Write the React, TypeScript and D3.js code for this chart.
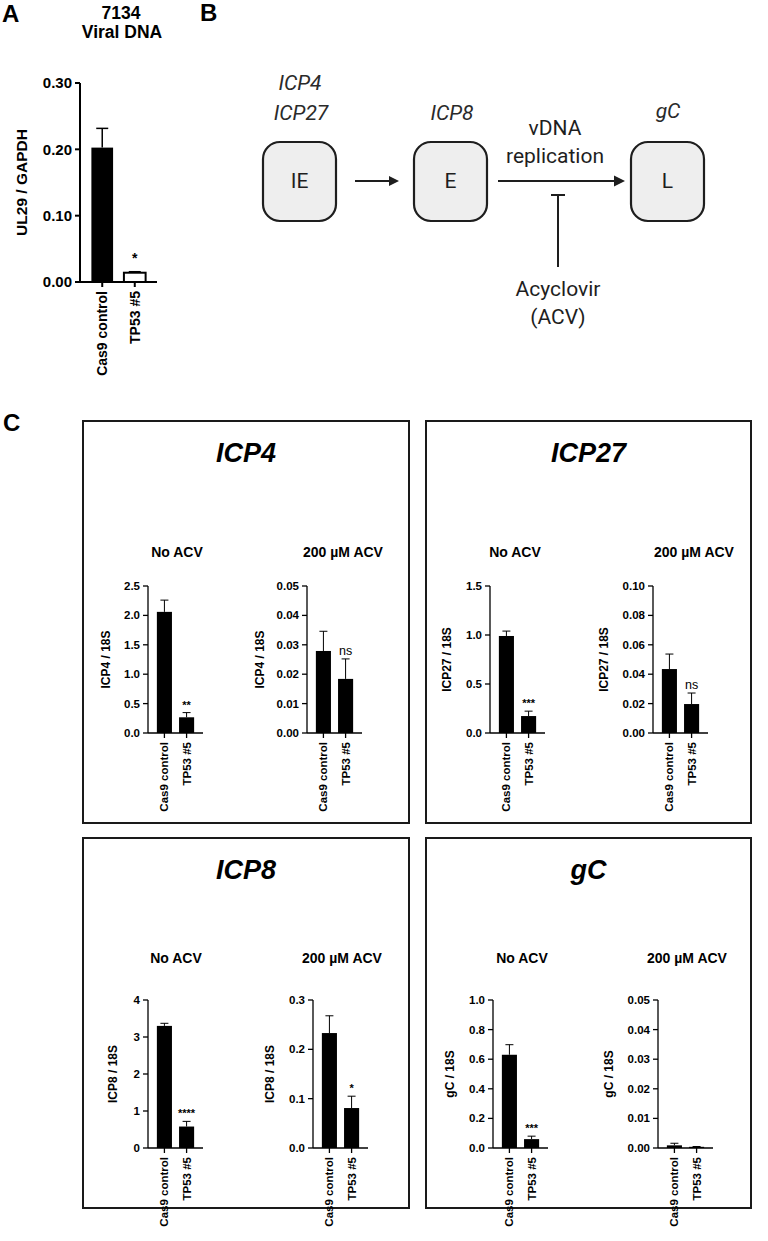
import React from "react";
import * as d3 from "d3";

// ---------- data ----------
const groups = ["Cas9 control", "TP53 #5"];

const viralDnaMean = [0.2026, 0.014];
const viralDnaSem = [0.029, 0.0015];
const viralDnaTicks = [0, 0.1, 0.2, 0.3];

const icp4NoMean = [2.06, 0.267];
const icp4NoSem = [0.2, 0.08];
const icp4NoTicks = [0, 0.5, 1.0, 1.5, 2.0, 2.5];
const icp4AcvMean = [0.0279, 0.0184];
const icp4AcvSem = [0.0067, 0.0068];
const icp4AcvTicks = [0, 0.01, 0.02, 0.03, 0.04, 0.05];

const icp27NoMean = [0.99, 0.173];
const icp27NoSem = [0.05, 0.05];
const icp27NoTicks = [0, 0.5, 1.0, 1.5];
const icp27AcvMean = [0.0435, 0.0197];
const icp27AcvSem = [0.0102, 0.0075];
const icp27AcvTicks = [0, 0.02, 0.04, 0.06, 0.08, 0.1];

const icp8NoMean = [3.3, 0.58];
const icp8NoSem = [0.07, 0.14];
const icp8NoTicks = [0, 1, 2, 3, 4];
const icp8AcvMean = [0.233, 0.081];
const icp8AcvSem = [0.035, 0.024];
const icp8AcvTicks = [0, 0.1, 0.2, 0.3];

const gcNoMean = [0.63, 0.06];
const gcNoSem = [0.068, 0.02];
const gcNoTicks = [0, 0.2, 0.4, 0.6, 0.8, 1.0];
const gcAcvMean = [0.0009, 0.0004];
const gcAcvSem = [0.0007, 0.0001];
const gcAcvTicks = [0, 0.01, 0.02, 0.03, 0.04, 0.05];

const FONT = "'Liberation Sans', Arial, Helvetica, sans-serif";
const ROBOTO = "Roboto, 'Noto Sans', sans-serif";

type ChartProps = {
  x0: number;
  len: number;
  yTop: number;
  yBottom: number;
  ticks: number[];
  fmt: string;
  means: number[];
  sems: number[];
  fills: string[];
  label: string;
  labelOffset: number;
  sig: string[];
  pi: number;
  po: number;
  tickSize: number;
  labelSize: number;
  xLabelSize: number;
  axisW: number;
  errW: number;
  capW: number;
  starSize: number;
  starGap: number;
};

function BarChart(p: ChartProps) {
  const max = p.ticks[p.ticks.length - 1];
  const y = d3.scaleLinear().domain([0, max]).range([p.yBottom, p.yTop]);
  const x = d3
    .scaleBand<string>()
    .domain(groups)
    .range([p.x0, p.x0 + p.len])
    .paddingInner(p.pi)
    .paddingOuter(p.po);
  const f = d3.format(p.fmt);
  const bw = x.bandwidth();
  return (
    <g fontFamily={FONT} fill="#000">
      {groups.map((g, i) => {
        const bx = x(g)!;
        const top = y(p.means[i]);
        const et = y(p.means[i] + p.sems[i]);
        const cx = bx + bw / 2;
        return (
          <g key={g}>
            <line x1={cx} x2={cx} y1={top} y2={et} stroke="#000" strokeWidth={p.errW} />
            <line x1={cx - p.capW / 2} x2={cx + p.capW / 2} y1={et} y2={et} stroke="#000" strokeWidth={p.errW} />
            <rect
              x={bx}
              y={top}
              width={bw}
              height={p.yBottom - top}
              fill={p.fills[i]}
              stroke="#000"
              strokeWidth={p.fills[i] === "#000" ? 0 : p.axisW}
            />
            {p.sig[i] ? (
              <text
                x={cx}
                y={et - p.starGap}
                textAnchor="middle"
                fontSize={p.sig[i] === "ns" ? 12.5 : p.starSize}
                fontWeight={p.sig[i] === "ns" ? 400 : 700}
                fill="#000"
              >
                {p.sig[i]}
              </text>
            ) : null}
            <line x1={cx} x2={cx} y1={p.yBottom} y2={p.yBottom + 5} stroke="#000" strokeWidth={p.axisW} />
            <text
              transform={`translate(${cx},${p.yBottom + 9}) rotate(-90)`}
              textAnchor="end"
              dy="0.35em"
              fontSize={p.xLabelSize}
              fontWeight={700}
            >
              {g}
            </text>
          </g>
        );
      })}
      <line x1={p.x0} x2={p.x0} y1={p.yTop} y2={p.yBottom} stroke="#000" strokeWidth={p.axisW} />
      <line x1={p.x0} x2={p.x0 + p.len} y1={p.yBottom} y2={p.yBottom} stroke="#000" strokeWidth={p.axisW} />
      {p.ticks.map((t) => (
        <g key={t}>
          <line x1={p.x0 - 5} x2={p.x0} y1={y(t)} y2={y(t)} stroke="#000" strokeWidth={p.axisW} />
          <text x={p.x0 - 8} y={y(t)} dy="0.35em" textAnchor="end" fontSize={p.tickSize} fontWeight={700}>
            {f(t)}
          </text>
        </g>
      ))}
      <text
        transform={`translate(${p.x0 - p.labelOffset},${(p.yTop + p.yBottom) / 2}) rotate(-90)`}
        textAnchor="middle"
        fontSize={p.labelSize}
        fontWeight={700}
      >
        {p.label}
      </text>
    </g>
  );
}

const smallBase = {
  len: 55,
  fills: ["#000", "#000"],
  pi: 0.32,
  po: 0.4,
  tickSize: 11.5,
  labelSize: 12,
  xLabelSize: 11.5,
  axisW: 1.3,
  errW: 1,
  capW: 8,
  starSize: 11,
  starGap: 4,
};

type PanelDef = {
  title: string;
  box: [number, number, number, number];
  titleY: number;
  subY: number;
  subX: [number, number];
  charts: Partial<ChartProps>[];
};

const topY: [number, number] = [586, 733];
const botY: [number, number] = [1000, 1148];

const panels: PanelDef[] = [
  {
    title: "ICP4",
    box: [83, 421, 409, 823],
    titleY: 462,
    subY: 557,
    subX: [177, 343],
    charts: [
      { x0: 148, yTop: topY[0], yBottom: topY[1], ticks: icp4NoTicks, fmt: ".1f", means: icp4NoMean, sems: icp4NoSem, label: "ICP4 / 18S", labelOffset: 38, sig: ["", "**"] },
      { x0: 307, yTop: topY[0], yBottom: topY[1], ticks: icp4AcvTicks, fmt: ".2f", means: icp4AcvMean, sems: icp4AcvSem, label: "ICP4 / 18S", labelOffset: 43, sig: ["", "ns"] },
    ],
  },
  {
    title: "ICP27",
    box: [426, 421, 751, 823],
    titleY: 462,
    subY: 557,
    subX: [515, 694],
    charts: [
      { x0: 490, yTop: topY[0], yBottom: topY[1], ticks: icp27NoTicks, fmt: ".1f", means: icp27NoMean, sems: icp27NoSem, label: "ICP27 / 18S", labelOffset: 39, sig: ["", "***"] },
      { x0: 653, yTop: topY[0], yBottom: topY[1], ticks: icp27AcvTicks, fmt: ".2f", means: icp27AcvMean, sems: icp27AcvSem, label: "ICP27 / 18S", labelOffset: 45, sig: ["", "ns"] },
    ],
  },
  {
    title: "ICP8",
    box: [83, 838, 409, 1208],
    titleY: 879,
    subY: 963,
    subX: [176, 342],
    charts: [
      { x0: 148, yTop: botY[0], yBottom: botY[1], ticks: icp8NoTicks, fmt: "d", means: icp8NoMean, sems: icp8NoSem, label: "ICP8 / 18S", labelOffset: 31, sig: ["", "****"] },
      { x0: 313, yTop: botY[0], yBottom: botY[1], ticks: icp8AcvTicks, fmt: ".1f", means: icp8AcvMean, sems: icp8AcvSem, label: "ICP8 / 18S", labelOffset: 39, sig: ["", "*"] },
    ],
  },
  {
    title: "gC",
    box: [426, 838, 751, 1208],
    titleY: 879,
    subY: 963,
    subX: [522, 687],
    charts: [
      { x0: 493, yTop: botY[0], yBottom: botY[1], ticks: gcNoTicks, fmt: ".1f", means: gcNoMean, sems: gcNoSem, label: "gC / 18S", labelOffset: 39, sig: ["", "***"] },
      { x0: 658, yTop: botY[0], yBottom: botY[1], ticks: gcAcvTicks, fmt: ".2f", means: gcAcvMean, sems: gcAcvSem, label: "gC / 18S", labelOffset: 45, sig: ["", ""] },
    ],
  },
];

const subtitles = ["No ACV", "200 µM ACV"];

function Diagram() {
  const boxFill = "#eeeeee";
  const stroke = "#1e1e1e";
  const boxes = [
    { x: 263, label: "IE" },
    { x: 414, label: "E" },
    { x: 631, label: "L" },
  ];
  return (
    <g fontFamily={ROBOTO} fill="#1e1e1e">
      {boxes.map((b) => (
        <g key={b.label}>
          <rect x={b.x} y={142} width={73} height={79} rx={17} fill={boxFill} stroke={stroke} strokeWidth={2.2} />
          <text x={b.x + 36.5} y={188} textAnchor="middle" fontSize={21}>
            {b.label}
          </text>
        </g>
      ))}
      <line x1={355} x2={391} y1={181} y2={181} stroke={stroke} strokeWidth={2} />
      <path d="M399,181 L389,176 L389,186 Z" fill={stroke} />
      <line x1={498} x2={616} y1={181} y2={181} stroke={stroke} strokeWidth={2} />
      <path d="M625,181 L614,175.5 L614,186.5 Z" fill={stroke} />
      <line x1={558} x2={558} y1={195} y2={267} stroke={stroke} strokeWidth={2} />
      <line x1={551} x2={565} y1={195} y2={195} stroke={stroke} strokeWidth={2} />
      <g fontStyle="italic" fontSize={21} textAnchor="middle" fill="#2a2a2a">
        <text x={300} y={90}>ICP4</text>
        <text x={301} y={120}>ICP27</text>
        <text x={452} y={120}>ICP8</text>
        <text x={668} y={118}>gC</text>
      </g>
      <g fontSize={21} textAnchor="middle">
        <text x={555} y={135}>vDNA</text>
        <text x={555} y={163}>replication</text>
        <text x={558} y={296}>Acyclovir</text>
        <text x={558} y={324}>(ACV)</text>
      </g>
    </g>
  );
}

export default function App() {
  return (
    <svg
      width={768}
      height={1241}
      viewBox="0 0 768 1241"
      style={{ position: "absolute", left: 0, top: 0, background: "#fff" }}
    >
      <rect width={768} height={1241} fill="#fff" />
      <g fontFamily={FONT} fontWeight={700} fontSize={24}>
        <text x={2} y={22}>A</text>
        <text x={200} y={21}>B</text>
        <text x={3} y={431}>C</text>
      </g>

      <g fontFamily={FONT} fontWeight={700} fontSize={17.5} textAnchor="middle">
        <text x={121} y={19}>7134</text>
        <text x={122} y={38}>Viral DNA</text>
      </g>
      <BarChart
        x0={80}
        len={77}
        yTop={83}
        yBottom={282}
        ticks={viralDnaTicks}
        fmt=".2f"
        means={viralDnaMean}
        sems={viralDnaSem}
        fills={["#000", "#fff"]}
        label="UL29 / GAPDH"
        labelOffset={53}
        sig={["", "*"]}
        pi={0.333}
        po={0.35}
        tickSize={15}
        labelSize={15.5}
        xLabelSize={14}
        axisW={2}
        errW={1.5}
        capW={12}
        starSize={14}
        starGap={9}
      />

      <Diagram />

      {panels.map((pn) => (
        <g key={pn.title}>
          <rect
            x={pn.box[0]}
            y={pn.box[1]}
            width={pn.box[2] - pn.box[0]}
            height={pn.box[3] - pn.box[1]}
            fill="none"
            stroke="#1a1a1a"
            strokeWidth={2}
          />
          <text
            x={(pn.box[0] + pn.box[2]) / 2}
            y={pn.titleY}
            textAnchor="middle"
            fontFamily={FONT}
            fontWeight={700}
            fontStyle="italic"
            fontSize={27}
          >
            {pn.title}
          </text>
          {subtitles.map((s, i) => (
            <text
              key={s}
              x={pn.subX[i]}
              y={pn.subY}
              textAnchor="middle"
              fontFamily={FONT}
              fontWeight={700}
              fontSize={14}
            >
              {s}
            </text>
          ))}
          {pn.charts.map((c, i) => (
            <BarChart key={i} {...(smallBase as any)} {...(c as any)} />
          ))}
        </g>
      ))}
    </svg>
  );
}
